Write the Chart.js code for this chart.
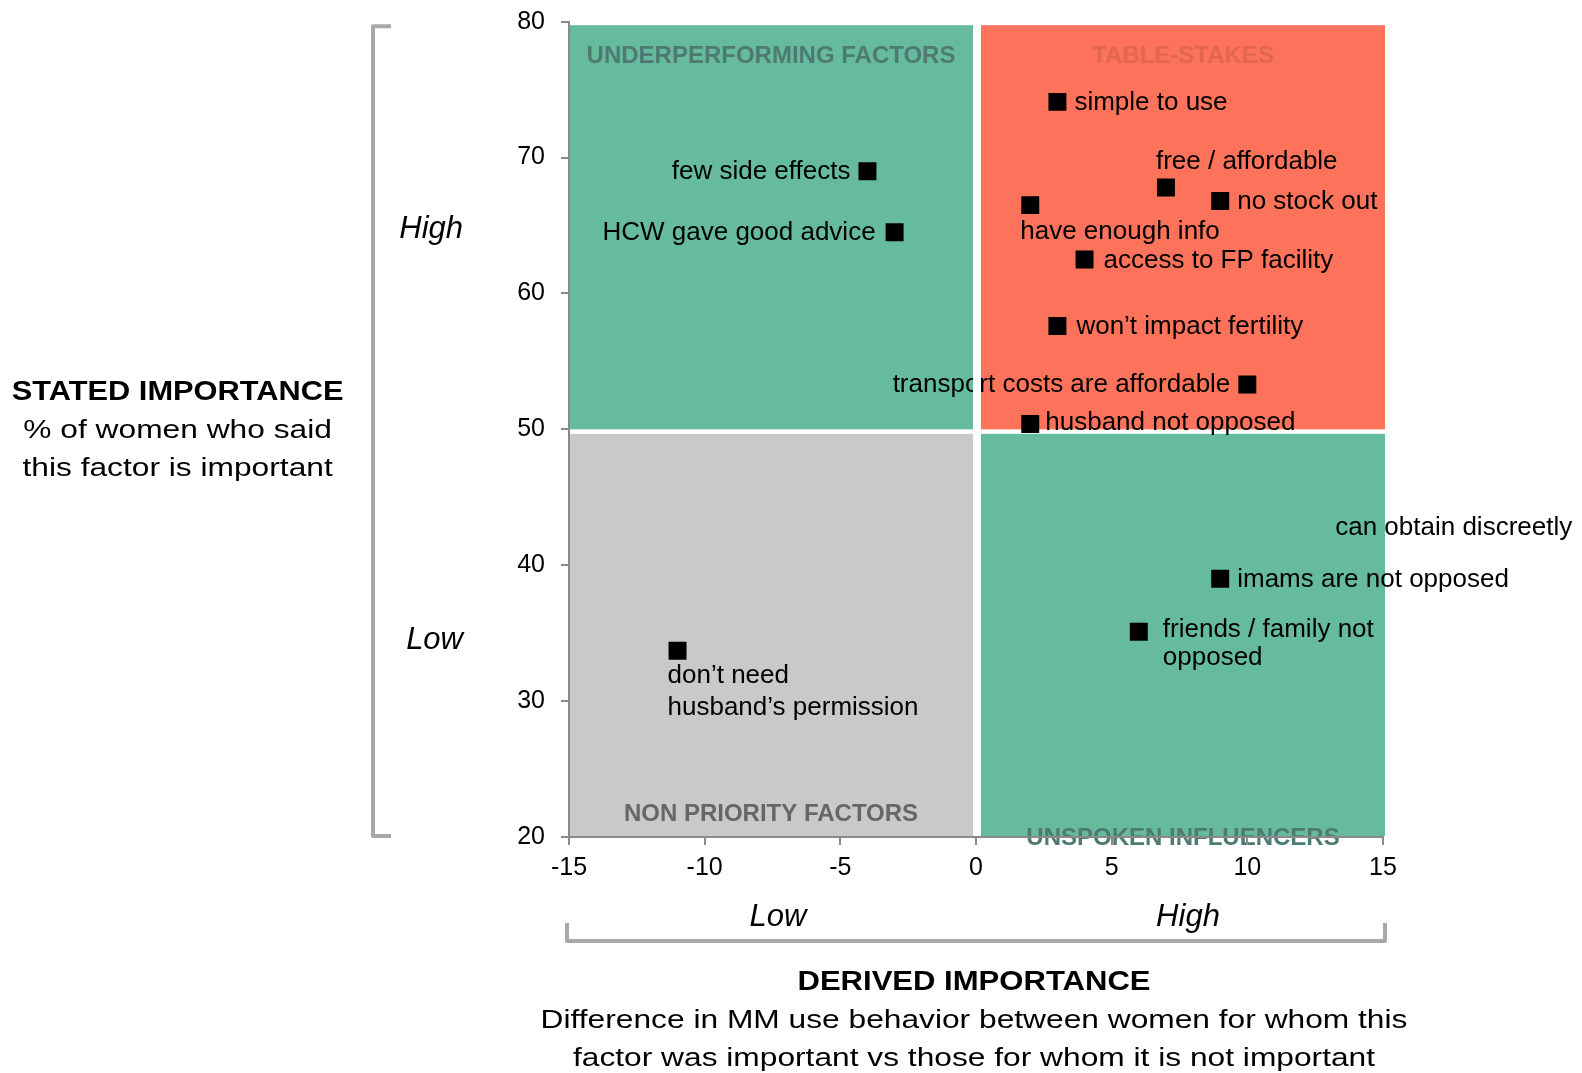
<!DOCTYPE html>
<html>
<head>
<meta charset="utf-8">
<script src="https://cdn.jsdelivr.net/npm/chart.js@4.4.1/dist/chart.umd.min.js"></script>
<style>
  html, body { margin: 0; padding: 0; background: #fff; }
  canvas { display: block; }
</style>
</head>
<body>
<canvas id="chart" width="1582" height="1073"></canvas>
<script>
// ========================
// Données
// ========================
const factors = [
  'few side effects',
  'HCW gave good advice',
  'simple to use',
  'free / affordable',
  'no stock out',
  'have enough info',
  'access to FP facility',
  'won’t impact fertility',
  'transport costs are affordable',
  'husband not opposed',
  'can obtain discreetly',
  'imams are not opposed',
  'friends / family not\nopposed',
  'don’t need\nhusband’s permission'
];
// Derived importance (x)
const derived = [-4, -3, 3, 7, 9, 2, 4, 3, 10, 2, 9, 9, 6, -11];
// Stated importance (y, %)
const stated = [69.0, 64.5, 74.1, 67.8, 66.8, 66.5, 62.5, 57.6, 53.3, 50.4, 49.7, 39.0, 35.1, 33.7];
// marker hidden for "can obtain discreetly" (not visible in the original)
const markerShown = [true, true, true, true, true, true, true, true, true, true, false, true, true, true];

const xTicks = [-15, -10, -5, 0, 5, 10, 15];
const yTicks = [20, 30, 40, 50, 60, 70, 80];
const xSplit = 0;
const ySplit = 50;

const quadrantNames = ['UNDERPERFORMING FACTORS', 'TABLE-STAKES', 'NON PRIORITY FACTORS', 'UNSPOKEN INFLUENCERS'];

// Placement des étiquettes (relatif au marqueur)
const labelPlacement = [
  { align: 'right', dx: -17, dy: 0 },
  { align: 'right', dx: -19, dy: 0 },
  { align: 'left', dx: 17, dy: 0 },
  { align: 'left', dx: -10, dy: -27 },
  { align: 'left', dx: 17, dy: 0 },
  { align: 'left', dx: -10, dy: 26 },
  { align: 'left', dx: 19, dy: 0 },
  { align: 'left', dx: 19, dy: 0 },
  { align: 'right', dx: -17, dy: -1 },
  { align: 'left', dx: 15, dy: -2 },
  { align: 'left', dx: 115, dy: 93 },
  { align: 'left', dx: 17, dy: 0 },
  { align: 'left', dx: 24, dy: -3, lh: 28.5 },
  { align: 'left', dx: -10, dy: 24, lh: 32 }
];

const FONT = '"Liberation Sans", Arial, Helvetica, sans-serif';
const GREEN = '#66bb9c';
const RED = '#fc725a';
const GREY = '#c8c9cb';
const AXIS = '#8a8a8a';

function stretchText(ctx, text, x, y, sx) {
  ctx.save();
  ctx.translate(x, y);
  ctx.scale(sx, 1);
  ctx.fillText(text, 0, 0);
  ctx.restore();
}

// ========================
// Quadrants (sous les axes)
// ========================
const quadrantPlugin = {
  id: 'quadrants',
  beforeDraw(chart) {
    const { ctx } = chart;
    const x = chart.scales.x, y = chart.scales.y;
    ctx.save();
    ctx.fillStyle = '#fff';
    ctx.fillRect(0, 0, chart.width, chart.height);

    const x0 = x.getPixelForValue(xSplit);
    const y0 = y.getPixelForValue(ySplit);
    const L = x.left, R = x.right + 2, T = y.top + 3.5, B = y.bottom - 1;

    ctx.fillStyle = GREEN; ctx.fillRect(L, T, x0 - 3 - L, y0 - T);
    ctx.fillStyle = RED;   ctx.fillRect(x0 + 5, T, R - x0 - 5, y0 - T);
    ctx.fillStyle = GREY;  ctx.fillRect(L, y0 + 4.5, x0 - 3 - L, B - y0 - 4.5);
    ctx.fillStyle = GREEN; ctx.fillRect(x0 + 5, y0 + 4.5, R - x0 - 5, B - y0 - 4.5);

    ctx.font = `bold 24px ${FONT}`;
    ctx.textAlign = 'center';
    ctx.textBaseline = 'middle';
    const cl = (L + x0 - 3) / 2, cr = (x0 + 5 + R) / 2;
    ctx.fillStyle = '#4d7a73'; ctx.fillText(quadrantNames[0], cl, T + 31.5);
    ctx.fillStyle = '#e3674f'; ctx.fillText(quadrantNames[1], cr, T + 31.5);
    ctx.fillStyle = '#666666'; ctx.fillText(quadrantNames[2], cl, B - 22);
    ctx.fillStyle = '#4d7a73'; ctx.fillText(quadrantNames[3], cr, B + 2.5);
    ctx.restore();
  }
};

// ========================
// Étiquettes des points
// ========================
const labelPlugin = {
  id: 'pointLabels',
  afterDatasetsDraw(chart) {
    const { ctx } = chart;
    const x = chart.scales.x, y = chart.scales.y;
    const meta = chart.getDatasetMeta(0);
    ctx.save();
    ctx.font = `26px ${FONT}`;
    ctx.fillStyle = '#000';
    ctx.textBaseline = 'middle';
    meta.data.forEach((pt, i) => {
      const p = labelPlacement[i];
      ctx.textAlign = p.align;
      factors[i].split('\n').forEach((line, k) => {
        ctx.fillText(line, pt.x + p.dx, pt.y + p.dy + 1 + k * (p.lh || 30));
      });
    });
    // trait blanc vertical entre les quadrants (par-dessus le texte)
    const x0 = x.getPixelForValue(xSplit);
    ctx.fillStyle = '#fff';
    ctx.fillRect(x0 - 3, y.top + 3.5, 8, y.bottom - y.top - 4.5);
    ctx.restore();
  }
};

// ========================
// Titres et accolades
// ========================
const decorPlugin = {
  id: 'decor',
  afterDraw(chart) {
    const { ctx } = chart;
    const x = chart.scales.x, y = chart.scales.y;
    const y0 = y.getPixelForValue(ySplit);
    ctx.save();

    // accolade gauche
    ctx.strokeStyle = '#a8a8a8';
    ctx.lineWidth = 4;
    ctx.lineJoin = 'round';
    ctx.beginPath();
    ctx.moveTo(391, y.top + 4.5);
    ctx.lineTo(373, y.top + 4.5);
    ctx.lineTo(373, y.bottom - 1);
    ctx.lineTo(391, y.bottom - 1);
    ctx.stroke();

    // accolade bas
    ctx.beginPath();
    ctx.moveTo(x.left - 2, 923);
    ctx.lineTo(x.left - 2, 941);
    ctx.lineTo(x.right + 2, 941);
    ctx.lineTo(x.right + 2, 923);
    ctx.stroke();

    ctx.fillStyle = '#000';
    ctx.textBaseline = 'middle';

    // High / Low (axe Y)
    ctx.font = `italic 31px ${FONT}`;
    ctx.textAlign = 'right';
    ctx.fillText('High', 463, (y.top + y0) / 2 + 4);
    ctx.fillText('Low', 463, (y0 + y.bottom) / 2 + 7);

    // Low / High (axe X)
    ctx.textAlign = 'center';
    ctx.fillText('Low', 778, 917);
    ctx.fillText('High', 1188, 917);

    // titre axe Y
    ctx.font = `bold 27px ${FONT}`;
    stretchText(ctx, 'STATED IMPORTANCE', 177.6, 393, 1.14);
    ctx.font = `26px ${FONT}`;
    stretchText(ctx, '% of women who said', 177.6, 431, 1.22);
    stretchText(ctx, 'this factor is important', 177.6, 469, 1.22);

    // titre axe X
    ctx.font = `bold 27px ${FONT}`;
    stretchText(ctx, 'DERIVED IMPORTANCE', 974, 983, 1.15);
    ctx.font = `26px ${FONT}`;
    stretchText(ctx, 'Difference in MM use behavior between women for whom this', 974, 1021, 1.22);
    stretchText(ctx, 'factor was important vs those for whom it is not important', 974, 1059, 1.22);

    ctx.restore();
  }
};

// ========================
// Graphique
// ========================
const points = derived.map((v, i) => ({ x: v, y: stated[i] }));

new Chart(document.getElementById('chart').getContext('2d'), {
  type: 'scatter',
  data: {
    datasets: [{
      label: 'Factors',
      data: points,
      pointStyle: 'rect',
      pointRadius: markerShown.map(s => (s ? 12.7 : 0)),
      pointHoverRadius: markerShown.map(s => (s ? 12.7 : 0)),
      pointBackgroundColor: '#000',
      pointBorderWidth: 0,
      borderWidth: 0
    }]
  },
  options: {
    responsive: false,
    animation: false,
    events: [],
    layout: { padding: { top: 21.7, right: 199, left: 0, bottom: 0 } },
    plugins: {
      legend: { display: false },
      tooltip: { enabled: false }
    },
    scales: {
      x: {
        type: 'linear',
        min: xTicks[0],
        max: xTicks[xTicks.length - 1],
        afterFit: s => { s.height = 236; s.paddingLeft = 0; s.paddingRight = 0; },
        afterBuildTicks: s => { s.ticks = xTicks.map(v => ({ value: v })); },
        grid: { drawOnChartArea: false, drawTicks: true, tickLength: 8, color: AXIS, lineWidth: 2 },
        border: { display: true, color: AXIS, width: 2 },
        ticks: { color: '#000', font: { family: FONT, size: 25 }, padding: 8, maxRotation: 0 }
      },
      y: {
        type: 'linear',
        min: yTicks[0],
        max: yTicks[yTicks.length - 1],
        afterFit: s => { s.width = 569; s.paddingTop = 0; s.paddingBottom = 0; },
        afterBuildTicks: s => { s.ticks = yTicks.map(v => ({ value: v })); },
        grid: { drawOnChartArea: false, drawTicks: true, tickLength: 8, color: AXIS, lineWidth: 2 },
        border: { display: true, color: AXIS, width: 2 },
        ticks: { color: '#000', font: { family: FONT, size: 25 }, padding: 16 }
      }
    }
  },
  plugins: [quadrantPlugin, labelPlugin, decorPlugin]
});
</script>
</body>
</html>
